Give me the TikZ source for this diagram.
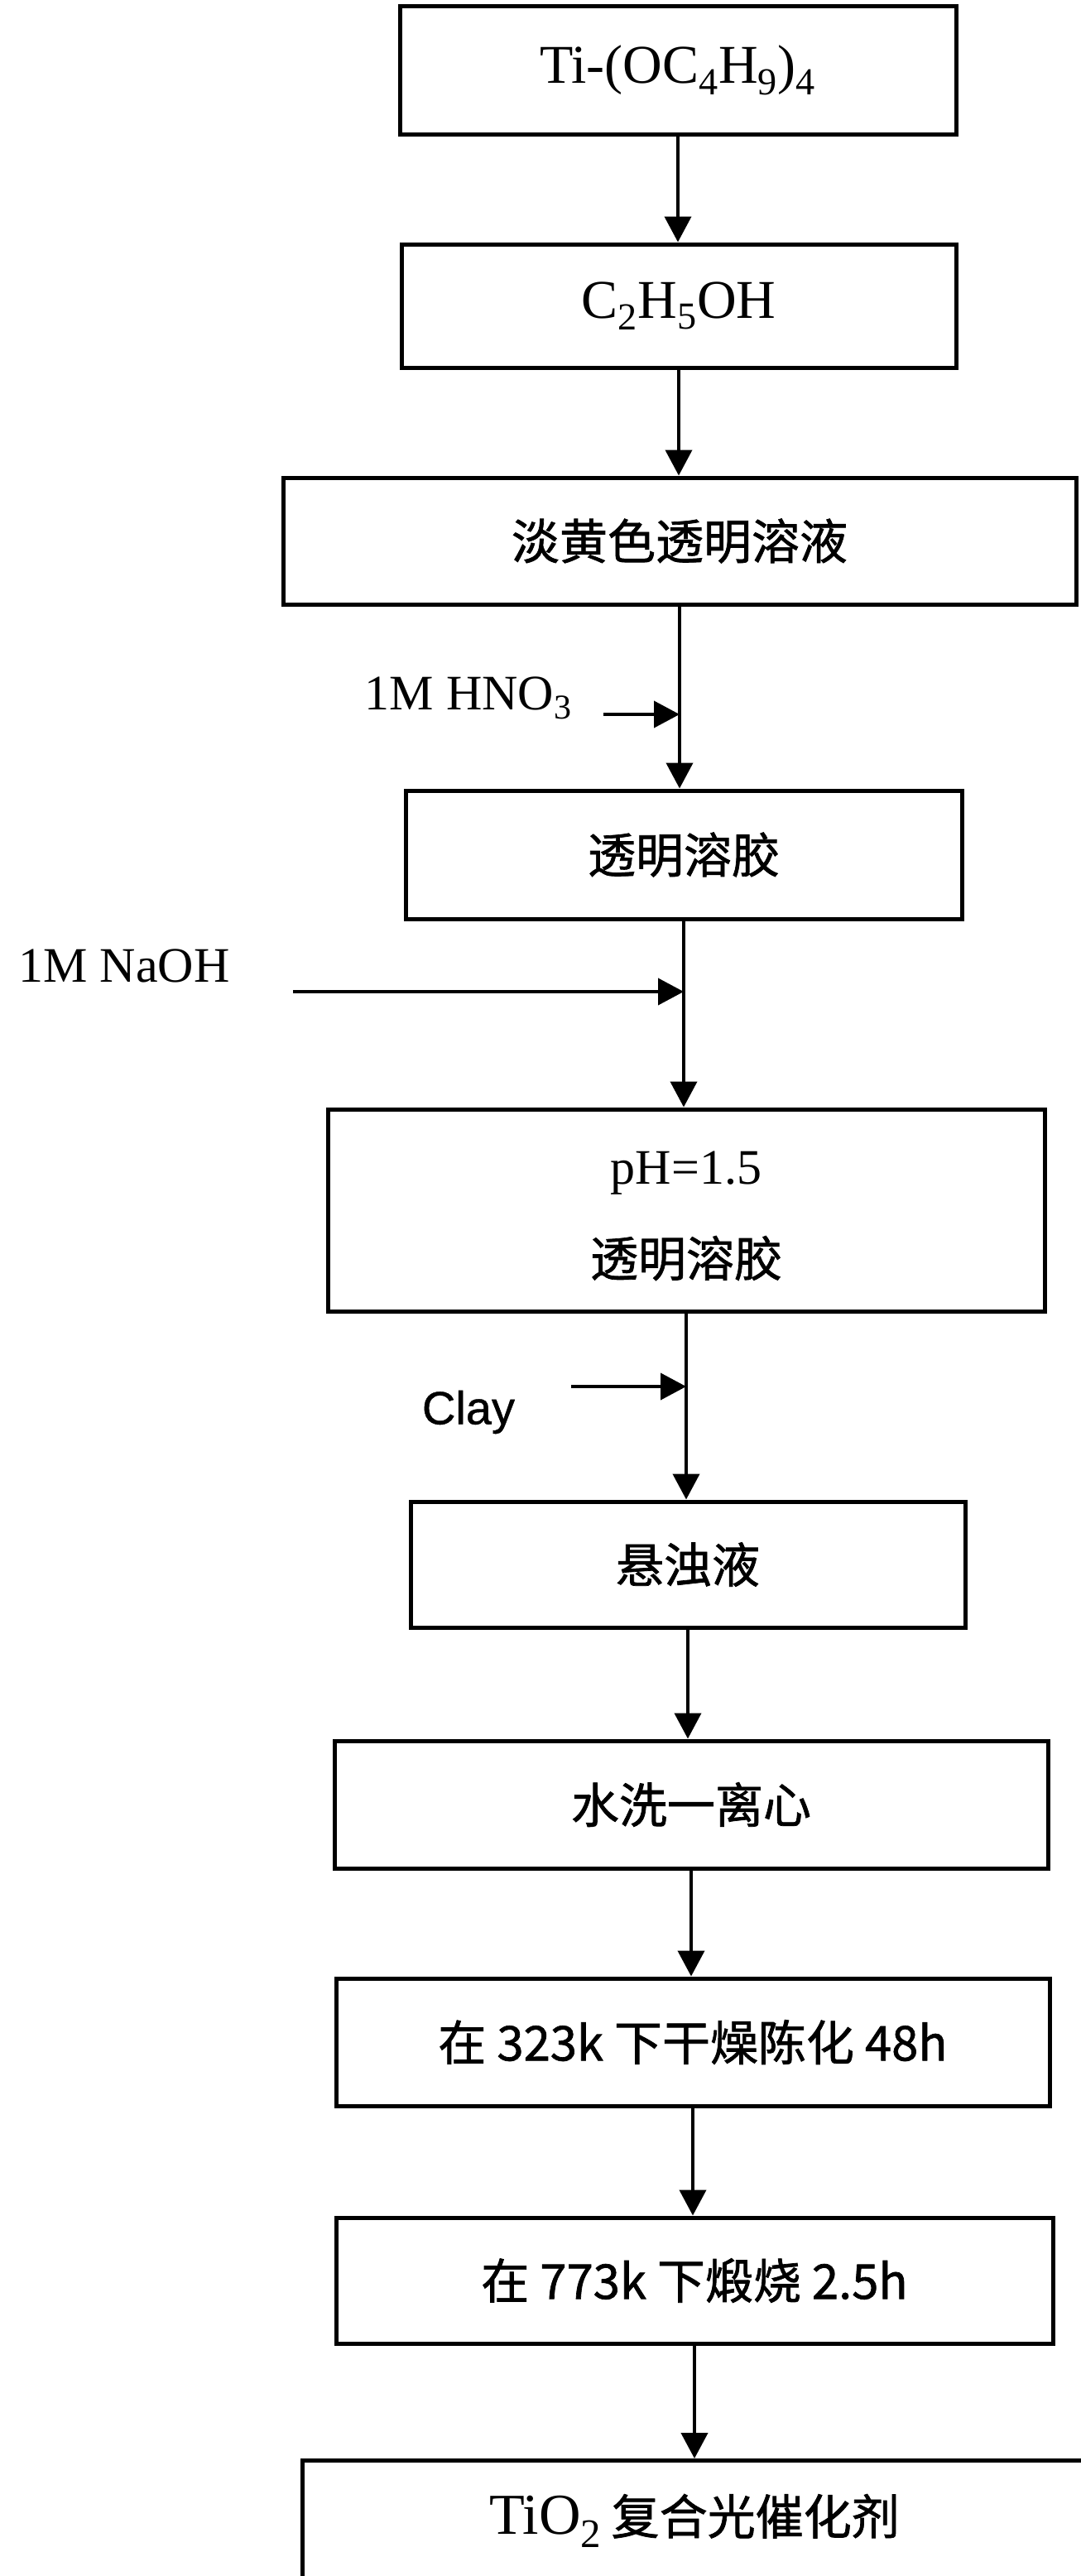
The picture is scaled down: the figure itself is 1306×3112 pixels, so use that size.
\documentclass[tikz,border=0pt]{standalone}
\usepackage{fontspec}
\setmainfont{Liberation Serif}
\newfontfamily\cjk{Noto Sans CJK SC}[FakeBold=1.2]
\newfontfamily\sansf{Liberation Sans}[FakeBold=0.8]
\usetikzlibrary{arrows.meta}
\begin{document}
\begin{tikzpicture}[x=0.5pt,y=-0.5pt,
  box/.style={draw,line width=2.5pt,inner sep=0pt,align=center},
  flow/.style={line width=2pt,-{Triangle[length=15.5pt,width=16pt]}},
  lat/.style={font=\fontsize{30}{36}\selectfont},
  big/.style={font=\fontsize{33}{40}\selectfont},
  zh/.style={font=\cjk\fontsize{29}{36}\selectfont},
  sf/.style={font=\sansf\fontsize{28}{34}\selectfont}]
\clip (0,0) rectangle (1306,3112);
\fill[white] (0,0) rectangle (1306,3112);

% boxes
\node[box,big,minimum width=336pt,minimum height=77.5pt] (b1) at (819,85) {Ti-(OC\textsubscript{4}H\textsubscript{9})\textsubscript{4}};
\node[box,big,minimum width=335pt,minimum height=74.5pt] (b2) at (820,369.5) {C\textsubscript{2}H\textsubscript{5}OH};
\node[box,zh,minimum width=479pt,minimum height=76.5pt] (b3) at (821,653.5) {淡黄色透明溶液};
\node[box,zh,minimum width=336pt,minimum height=77.5pt] (b4) at (826,1032.5) {透明溶胶};
\node[box,minimum width=433pt,minimum height=122pt] (b5) at (829,1462) {};
\node[lat] (b5a) at (829,1417) {pH=1.5};
\node[zh] (b5b) at (829,1520) {透明溶胶};
\node[box,zh,minimum width=335pt,minimum height=76pt] (b6) at (831,1890) {悬浊液};
\node[box,zh,minimum width=431pt,minimum height=77pt] (b7) at (835,2180) {水洗一离心};
\node[box,zh,minimum width=431pt,minimum height=77pt] (b8) at (837,2467) {在 323k 下干燥陈化 48h};
\node[box,zh,minimum width=433pt,minimum height=76pt] (b9) at (839,2755) {在 773k 下煅烧 2.5h};
\node[box,anchor=north west,minimum width=500pt,minimum height=100pt] (b10) at (363,2970) {};
\node[inner sep=0pt] (t10) at (839,3045) {\fontsize{35}{42}\selectfont TiO\textsubscript{2}\,{\cjk\fontsize{29}{36}\selectfont 复合光催化剂}};

% main flow
\draw[flow] (b1.south) -- (b1.south |- b2.north);
\draw[flow] (b2.south) -- (b2.south |- b3.north);
\draw[flow] (b3.south) -- (b3.south |- b4.north);
\draw[flow] (b4.south) -- (b4.south |- b5.north);
\draw[flow] (b5.south) -- (b5.south |- b6.north);
\draw[flow] (b6.south) -- (b6.south |- b7.north);
\draw[flow] (b7.south) -- (b7.south |- b8.north);
\draw[flow] (b8.south) -- (b8.south |- b9.north);
\draw[flow] (b9.south) -- (b9.south |- b10.north);

% side inputs
\node[lat] (lh) at (566,843) {1M HNO\textsubscript{3}};
\coordinate (sh) at (729,863);
\draw[flow] (sh) -- (sh -| b3.south);

\node[lat] (ln) at (150,1167) {1M NaOH};
\coordinate (sn) at (354,1198);
\draw[flow] (sn) -- (sn -| b4.south);

\node[sf] (lc) at (566,1706) {Clay};
\coordinate (sc) at (690,1675);
\draw[flow] (sc) -- (sc -| b5.south);
\end{tikzpicture}
\end{document}
